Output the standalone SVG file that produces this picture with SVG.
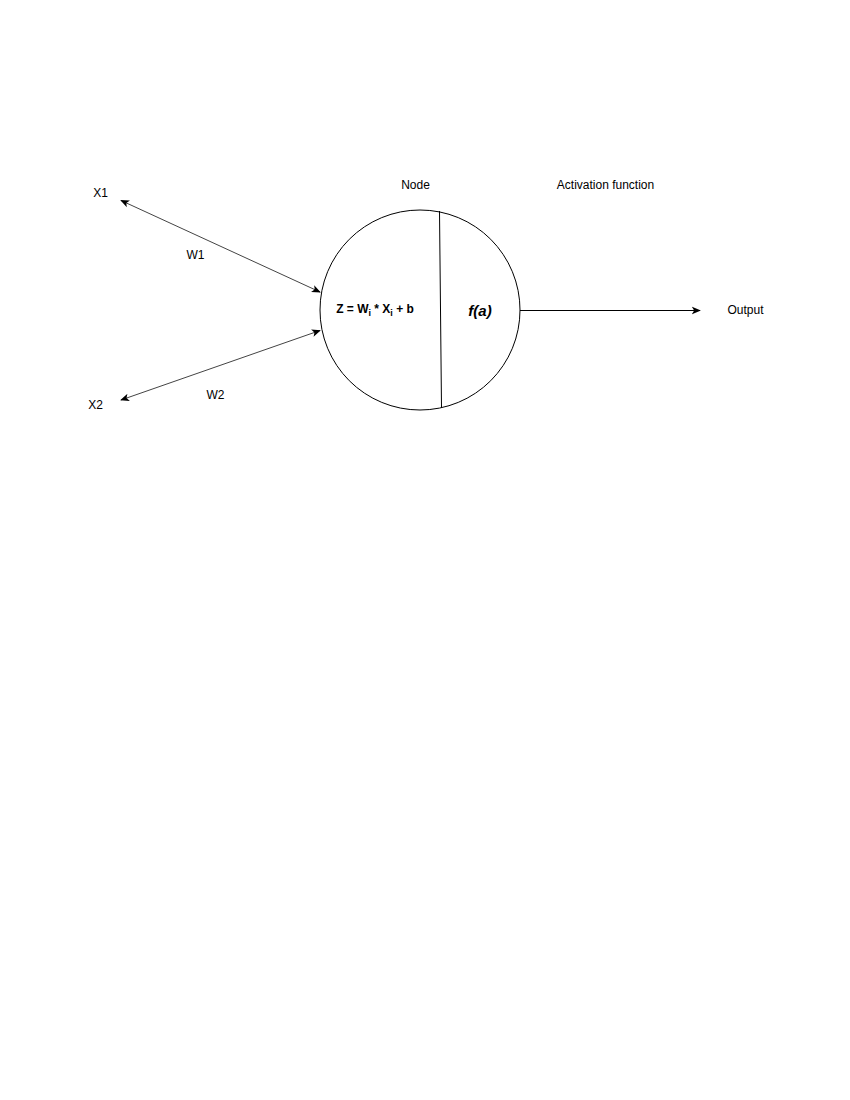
<svg xmlns="http://www.w3.org/2000/svg" width="850" height="1100" viewBox="0 0 850 1100">
  <style>
    text { font-family: "Liberation Sans", Arial, sans-serif; font-size: 12px; fill: #000; }
    .mid { text-anchor: middle; }
    .fn { font-size: 15px; font-weight: bold; font-style: italic; }
    .sub { font-size: 9px; }
    .edge { fill: none; stroke: #000; stroke-width: 1; }
    .in { stroke: #444; }
  </style>
  <defs>
    <marker id="arrow" viewBox="0 0 10 10" refX="9" refY="5" markerWidth="9" markerHeight="9" markerUnits="userSpaceOnUse" orient="auto-start-reverse">
      <path d="M0,0.8 L10,5 L0,9.2 L2.5,5 Z" fill="#000"/>
    </marker>
  </defs>

  <rect width="850" height="1100" fill="#fff"/>

  <!-- neuron: weighted sum on the left, activation on the right -->
  <g id="node">
    <circle cx="420" cy="310" r="100" fill="#fff" stroke="#000" stroke-width="1"/>
    <line x1="439.5" y1="211" x2="441.5" y2="408" stroke="#000" stroke-width="1"/>
    <text class="mid" x="375" y="313" font-weight="bold">Z = W<tspan class="sub" dy="3">i</tspan><tspan dy="-3"> * X</tspan><tspan class="sub" dy="3">i</tspan><tspan dy="-3"> + b</tspan></text>
    <text class="mid fn" x="480" y="316">f(a)</text>
  </g>

  <g id="connectors">
    <line class="edge in" x1="121" y1="200.5" x2="320" y2="292" marker-start="url(#arrow)" marker-end="url(#arrow)"/>
    <line class="edge in" x1="121" y1="400" x2="320" y2="330.5" marker-start="url(#arrow)" marker-end="url(#arrow)"/>
    <line class="edge" x1="520" y1="310.5" x2="700" y2="310.5" marker-end="url(#arrow)"/>
  </g>

  <g id="label-x1"><text class="mid" x="100.5" y="197">X1</text></g>
  <g id="label-x2"><text class="mid" x="95.5" y="409">X2</text></g>
  <g id="label-w1"><text class="mid" x="195.5" y="259">W1</text></g>
  <g id="label-w2"><text class="mid" x="215.5" y="399">W2</text></g>
  <g id="label-node"><text class="mid" x="415.5" y="189">Node</text></g>
  <g id="label-activation"><text class="mid" x="605.5" y="189">Activation function</text></g>
  <g id="label-output"><text class="mid" x="745.5" y="314">Output</text></g>
</svg>
